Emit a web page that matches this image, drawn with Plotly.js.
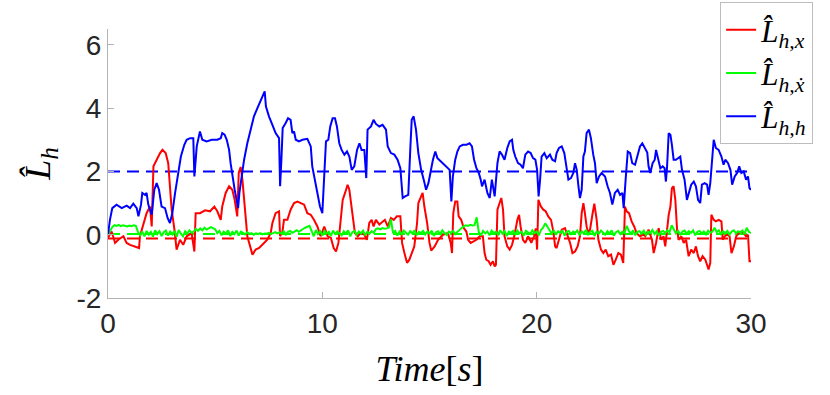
<!DOCTYPE html>
<html>
<head>
<meta charset="utf-8">
<script src="https://cdn.plot.ly/plotly-3.0.1.min.js"></script>
<style>body{margin:0;background:#fff}#chart{width:830px;height:395px}</style>
</head>
<body>
<div id="chart"></div>
<script>
// time stamps and values
const tRed = [0, 0.17, 0.33, 0.48, 0.72, 0.87, 1.03, 1.26, 1.45, 1.49, 1.65, 1.8, 1.96, 2.04, 2.12, 2.27, 2.43, 2.54, 2.69, 2.81, 2.89, 2.97, 3.1, 3.2, 3.36, 3.51, 3.67, 3.9, 4.03, 4.09, 4.29, 4.53, 4.76, 4.96,
  5.1, 5.26, 5.33, 5.49, 5.65, 5.8, 5.91, 6.03, 6.1, 6.19, 6.27, 6.35, 6.42, 6.5, 6.63, 6.74, 6.89, 7.05, 7.28, 7.43, 7.59, 7.67, 7.82, 7.98, 8.03, 8.14, 8.21, 8.37, 8.52, 8.68, 8.84, 8.99, 9.15, 9.3, 9.46, 9.61, 9.77, 9.92,
  10.09, 10.25, 10.4, 10.53, 10.64, 10.75, 10.84, 10.95, 11.06, 11.18, 11.26, 11.37, 11.46, 11.52, 11.65, 11.8, 11.96, 12.08, 12.19, 12.3, 12.39, 12.5, 12.66, 12.81, 12.92, 13.05, 13.2, 13.33, 13.48, 13.64, 13.72, 13.83, 13.95, 14.06, 14.17, 14.29, 14.42, 14.48, 14.61, 14.68, 14.76, 14.89,
  15.0, 15.08, 15.24, 15.4, 15.63, 15.86, 15.99, 16.05, 16.11, 16.2, 16.3, 16.36, 16.48, 16.6, 16.72, 16.8, 16.92, 17.03, 17.19, 17.34, 17.49, 17.57, 17.65, 17.76, 17.85, 17.96, 18.04, 18.1, 18.17, 18.27, 18.35, 18.43, 18.5, 18.63, 18.74, 18.85, 18.97, 19.1, 19.18, 19.25, 19.36, 19.47, 19.6, 19.75, 19.88, 19.96,
  20.02, 20.08, 20.2, 20.31, 20.42, 20.54, 20.67, 20.78, 20.86, 20.93, 21.04, 21.17, 21.32, 21.45, 21.56, 21.67, 21.79, 21.91, 22.02, 22.1, 22.18, 22.25, 22.33, 22.41, 22.49, 22.6, 22.69, 22.8, 22.88, 23.0, 23.11, 23.22, 23.34, 23.47, 23.58, 23.69, 23.81, 23.93, 24.04, 24.12, 24.2, 24.31, 24.43, 24.55, 24.66, 24.82,
  24.98, 25.07, 25.22, 25.38, 25.46, 25.57, 25.69, 25.81, 25.92, 26.0, 26.08, 26.16, 26.24, 26.31, 26.39, 26.47, 26.55, 26.62, 26.75, 26.86, 26.97, 27.09, 27.21, 27.33, 27.43, 27.53, 27.63, 27.74, 27.87, 28.02, 28.1, 28.15, 28.26, 28.36, 28.49, 28.62, 28.68, 28.78, 28.89, 29.0, 29.09, 29.2, 29.31, 29.43, 29.55, 29.66, 29.77, 29.86, 29.93, 30.0];
const red = [-0.1, 0.1, -0.26, -0.16, -0.05, -0.26, -0.32, -0.37, -0.42, -0.05, 0.32, 0.68, 0.89, 0.26, 2.16, 2.37, 2.58, 2.68, 2.58, 2.26, 1.63, 0.79, 0.16, -0.47, -0.16, -0.32, -0.05, 0.05, -0.53, 0.68, 0.68, 0.77, 0.74, 0.89,
  0.74, 0.47, 0.89, 1.32, 1.53, 1.42, 1.1, 0.58, 1.95, 2.14, 1.74, 1.0, 0.58, -0.05, -0.37, -0.63, -0.47, -0.42, -0.26, -0.16, 0.05, 0.37, 0.68, 0.74, -0.05, 0.1, 0.47, 0.47, 0.79, 1.0, 1.05, 1.0, 0.95, 0.68, 0.63, 0.47, 0.26, -0.05,
  0.26, -0.05, -0.1, -0.42, -0.53, -0.26, 0.37, 1.1, 1.32, 1.58, 1.42, 0.89, 0.47, 0.05, -0.05, 0.05, 0, -0.16, 0.37, 0.47, 0.26, 0.47, 0.32, 0.42, 0.47, 0.26, 0.53, 0.47, 0.58, 0.58, -0.26, -0.58, -0.89, -0.79, -0.58, -0.37, 0.37, 1.0, 1.21, 1.32, 0.89, 0.37,
  -0.26, -0.5, -0.37, -0.16, 0, 0.05, -0.26, -0.58, 0.68, 1.05, 1.05, 0.58, 0.47, 0.21, 0.1, -0.16, -0.26, -0.21, -0.16, -0.05, -0.05, -0.58, -0.79, -0.84, -0.95, -0.84, -1.0, -0.95, 0.79, 1.0, 1.16, 0.79, -0.05, -0.37, -0.47, -0.32, 0, 0.47, 0.63, 0.26, -0.16, -0.26, -0.05, -0.26, -0.05, 0.2,
  -0.47, 1.1, 0.89, 0.79, 0.74, 0.58, 0.47, 0.1, -0.37, -0.42, -0.16, 0.16, 0.21, -0.05, -0.26, -0.58, -0.53, -0.37, -0.05, 0.68, 1.0, 0.68, 0.26, 0.05, 0.16, 0.63, 0.98, 0.47, -0.16, -0.47, -0.58, -0.47, -0.68, -0.63, -0.95, -0.79, -0.58, -0.63, -0.89, 0.89, 0.74, 0.68, 0.42, 0.26, 0.05, -0.05,
  0, -0.05, 0.16, -0.16, -0.58, -0.26, 0.21, -0.16, -0.05, -0.37, 0.16, 0.63, 0.89, 1.47, 1.53, 1.1, 0.16, -0.16, -0.05, -0.26, -0.16, -0.68, -0.47, -0.58, -0.37, -0.68, -0.84, -0.68, -0.79, -1.1, -0.89, 0.63, 0.47, 0.42, 0.47, 0.42, -0.16, -0.05, 0, -0.05, -0.58, -0.37, -0.05, 0.05, 0.1, 0.05, -0.05, 0, -0.84, -0.84];

const tBlue = [0, 0.09, 0.2, 0.4, 0.64, 0.87, 1.03, 1.18, 1.34, 1.42, 1.54, 1.6, 1.73, 1.8, 1.88, 2.04, 2.16, 2.27, 2.38, 2.5, 2.66, 2.78, 2.89, 3.0, 3.13, 3.25, 3.4, 3.56, 3.67, 3.83, 3.98, 4.03, 4.14, 4.29, 4.4, 4.6, 4.84,
  5.1, 5.26, 5.33, 5.44, 5.54, 5.65, 5.72, 5.8, 5.91, 6.0, 6.07, 6.13, 6.22, 6.35, 6.5, 6.66, 6.81, 6.97, 7.12, 7.25, 7.31, 7.37, 7.51, 7.67, 7.82, 7.98, 8.03, 8.09, 8.15, 8.29, 8.4, 8.52, 8.6, 8.68, 8.76, 8.91, 9.07, 9.3, 9.46, 9.53, 9.64, 9.77, 9.89, 10.0,
  10.09, 10.17, 10.28, 10.37, 10.48, 10.59, 10.68, 10.79, 10.9, 11.03, 11.15, 11.26, 11.37, 11.49, 11.62, 11.73, 11.83, 11.96, 12.05, 12.11, 12.27, 12.39, 12.5, 12.66, 12.81, 12.97, 13.05, 13.2, 13.36, 13.51, 13.64, 13.75, 13.86, 14.01, 14.11, 14.17, 14.26, 14.37, 14.48, 14.61, 14.73, 14.84, 14.95,
  15.07, 15.16, 15.27, 15.37, 15.52, 15.71, 15.86, 15.94, 16.02, 16.09, 16.2, 16.3, 16.41, 16.56, 16.72, 16.87, 16.98, 17.08, 17.19, 17.3, 17.39, 17.45, 17.57, 17.7, 17.81, 17.91, 18.04, 18.17, 18.27, 18.38, 18.5, 18.63, 18.74, 18.85, 18.91, 19.0, 19.13, 19.25, 19.36, 19.47, 19.6, 19.72, 19.83, 19.94,
  20.02, 20.09, 20.16, 20.23, 20.36, 20.47, 20.62, 20.73, 20.86, 20.93, 21.04, 21.17, 21.29, 21.4, 21.48, 21.6, 21.71, 21.79, 21.87, 21.95, 22.02, 22.1, 22.18, 22.25, 22.33, 22.44, 22.53, 22.64, 22.72, 22.8, 22.91, 23.03, 23.19, 23.31, 23.42, 23.53, 23.65, 23.78, 23.89, 24.0, 24.06, 24.15, 24.25, 24.36, 24.46, 24.59, 24.71, 24.82, 24.93,
  25.06, 25.16, 25.22, 25.3, 25.41, 25.51, 25.57, 25.66, 25.77, 25.88, 25.97, 26.03, 26.08, 26.16, 26.24, 26.31, 26.39, 26.5, 26.62, 26.7, 26.78, 26.9, 27.01, 27.09, 27.21, 27.33, 27.43, 27.53, 27.63, 27.71, 27.84, 27.95, 28.02, 28.1, 28.18, 28.26, 28.36, 28.49, 28.62, 28.72, 28.8, 28.93, 29.04, 29.12, 29.24, 29.35, 29.45, 29.55, 29.66, 29.77, 29.86, 29.93, 30.0];
const blue = [0, 0.47, 0.84, 0.95, 0.84, 0.92, 0.84, 0.98, 0.84, 0.58, 0.95, 1.32, 1.26, 1.32, 0.95, 0.63, 1.42, 1.63, 1.42, 0.89, 0.84, 0.53, 0.37, 0.68, 1.32, 1.84, 2.47, 2.84, 3.0, 3.05, 3.05, 1.84, 2.79, 3.26, 3.0, 2.95, 3.0,
  3.0, 3.05, 3.21, 3.16, 3.0, 2.68, 2.26, 1.84, 1.42, 1.1, 0.84, 1.32, 1.74, 2.37, 2.89, 3.32, 3.74, 4.0, 4.26, 4.47, 4.53, 4.05, 3.74, 3.47, 3.21, 3.05, 1.53, 2.37, 3.37, 3.53, 3.68, 3.63, 3.21, 3.26, 3.0, 2.95, 3.0, 3.03, 2.79, 2.16, 1.74, 1.32, 0.89, 0.68,
  1.74, 2.95, 3.0, 3.42, 3.68, 3.68, 3.42, 2.89, 2.68, 2.53, 2.63, 2.47, 2.05, 2.16, 2.68, 2.89, 2.68, 2.68, 1.79, 3.32, 3.42, 3.63, 3.5, 3.42, 3.47, 3.32, 2.79, 2.58, 2.53, 2.37, 2.1, 1.16, 1.21, 1.26, 2.79, 3.63, 3.74, 3.32, 2.58, 2.05, 1.74, 1.42, 1.63,
  2.1, 2.37, 2.63, 2.42, 2.32, 2.21, 2.1, 2.05, 1.05, 1.84, 2.37, 2.63, 2.79, 2.84, 2.84, 2.89, 2.79, 2.37, 2.1, 1.95, 1.74, 1.53, 1.74, 1.32, 1.16, 1.74, 1.21, 2.26, 2.63, 2.53, 2.37, 2.74, 2.95, 3.0, 2.68, 2.47, 2.26, 2.21, 2.1, 2.53, 2.63, 2.58, 2.42, 2.37,
  2.05, 1.21, 1.74, 2.47, 2.58, 2.42, 2.53, 2.37, 2.32, 2.58, 2.74, 2.79, 2.58, 2.16, 1.74, 1.79, 1.95, 2.26, 2.05, 1.53, 1.16, 1.42, 2.47, 2.63, 3.21, 3.32, 3.05, 2.53, 2.26, 1.63, 1.84, 1.95, 1.84, 1.53, 1.32, 0.95, 1.32, 1.42, 1.26, 1.32, 0.84, 1.74, 2.63, 2.58, 2.26, 2.21, 2.53, 2.79, 2.89,
  2.7, 2.6, 2.16, 1.95, 2.26, 2.37, 2.68, 2.37, 2.1, 2.16, 2.1, 1.68, 2.1, 3.21, 3.16, 2.84, 2.37, 2.37, 2.42, 2.47, 2.05, 1.74, 1.1, 1.32, 1.58, 1.68, 1.53, 1.1, 1.0, 1.58, 1.63, 1.58, 1.26, 1.63, 2.37, 3.0, 2.74, 2.68, 2.47, 2.21, 2.37, 2.26, 2.05, 1.58, 1.84, 1.95, 2.16, 1.95, 2.0, 1.74, 1.84, 1.47, 1.42];

// green is sampled every 0.1 s (one row per second)
const greenStep = 0.1;
const green = [
  0.00, 0.12, 0.24, 0.30, 0.28, 0.31, 0.27, 0.30, 0.29, 0.26,
  0.29, 0.27, 0.30, 0.28, 0.08, -0.02, 0.10, -0.05, 0.12, 0.00,
  0.09, -0.06, 0.14, 0.02, 0.11, -0.04, 0.08, 0.13, -0.03, 0.10,
  0.01, 0.12, -0.06, 0.15, 0.03, -0.05, 0.11, 0.04, 0.14, 0.06,
  0.10, 0.18, 0.12, 0.20, 0.14, 0.22, 0.16, 0.19, 0.24, 0.21,
  0.17, 0.05, 0.12, -0.02, 0.10, 0.03, 0.14, -0.04, 0.09, 0.02,
  0.13, -0.03, 0.10, 0.06, 0.01, 0.08, 0.02, 0.05, 0.00, 0.04,
  0.02, 0.05, 0.01, 0.04, 0.03, 0.06, 0.02, 0.05, 0.08, 0.04,
  0.07, 0.03, 0.11, 0.00, 0.09, 0.12, 0.06, 0.10, 0.14, 0.09,
  0.15, 0.18, 0.22, 0.24, 0.28, 0.12, -0.05, 0.15, 0.02, 0.11,
  -0.03, 0.12, 0.04, 0.09, -0.04, 0.13, 0.02, 0.10, 0.05, -0.02,
  0.11, 0.03, 0.14, -0.05, 0.08, 0.12, 0.00, 0.10, 0.04, 0.13,
  -0.02, 0.09, 0.03, 0.11, 0.06, 0.18, 0.20, 0.17, 0.21, 0.19,
  0.20, 0.22, 0.48, 0.05, 0.12, -0.03, 0.10, 0.02, 0.13, 0.06,
  0.00, 0.11, 0.04, 0.14, -0.02, 0.09, 0.05, 0.12, 0.01, 0.10,
  0.03, 0.13, -0.04, 0.08, 0.11, 0.02, 0.14, 0.05, -0.01, 0.10,
  0.06, 0.12, 0.02, 0.09, 0.15, 0.22, 0.27, 0.30, 0.28, 0.31,
  0.29, 0.30, 0.55, 0.08, -0.03, 0.12, 0.04, 0.10, -0.02, 0.13,
  0.05, 0.09, 0.00, 0.14, 0.03, 0.11, -0.04, 0.10, 0.06, 0.12,
  0.01, 0.13, 0.04, 0.09, -0.03, 0.12, 0.07, 0.02, 0.14, 0.05,
  0.10, -0.02, 0.15, 0.22, 0.36, 0.25, 0.12, 0.04, 0.13, 0.00,
  0.11, 0.05, 0.14, -0.03, 0.09, 0.12, 0.02, 0.10, 0.06, 0.13,
  -0.02, 0.11, 0.04, 0.15, 0.01, 0.09, 0.12, -0.04, 0.10, 0.03,
  0.13, 0.06, 0.00, 0.11, 0.04, 0.14, -0.03, 0.08, 0.12, 0.02,
  0.10, 0.05, 0.28, 0.12, 0.03, 0.14, -0.02, 0.09, 0.11, 0.04,
  0.13, 0.00, 0.10, 0.06, 0.15, 0.02, 0.11, -0.03, 0.09, 0.12,
  0.05, 0.14, 0.08, 0.30, 0.16, 0.04, 0.12, 0.00, 0.10, 0.13,
  0.03, 0.11, 0.06, 0.14, -0.02, 0.09, 0.12, 0.04, 0.10, 0.01,
  0.13, 0.06, 0.10, 0.22, 0.08, 0.14, 0.02, 0.11, 0.05, 0.12,
  0.00, 0.10, 0.14, 0.04, 0.11, 0.07, 0.13, 0.02, 0.22, 0.09,
  0.05];
const tGreen = green.map((v, i) => +(i * greenStep).toFixed(1));

// reference (dashed) levels
const refSpan = [0, 30];
const refRed = -0.12;
const refGreen = 0.02;
const refBlue = 2;

const names = ['<i>L̂</i><sub><i>h,x</i></sub>', '<i>L̂</i><sub><i>h,ẋ</i></sub>', '<i>L̂</i><sub><i>h,h</i></sub>'];
const colors = ['#ff0000', '#00ff00', '#0000ff'];

function refTrace(level, color) {
  return {
    x: refSpan, y: [level, level], type: 'scatter', mode: 'lines',
    line: {color: color, width: 2, dash: '12px,7px'},
    showlegend: false, hoverinfo: 'skip'
  };
}

const traces = [
  refTrace(refRed, colors[0]),
  refTrace(refGreen, colors[1]),
  refTrace(refBlue, colors[2]),
  {x: tRed, y: red, type: 'scatter', mode: 'lines', name: names[0], line: {color: colors[0], width: 2}},
  {x: tGreen, y: green, type: 'scatter', mode: 'lines', name: names[1], line: {color: colors[1], width: 2}},
  {x: tBlue, y: blue, type: 'scatter', mode: 'lines', name: names[2], line: {color: colors[2], width: 2}}
];

const axisGray = '#b3b3b3';
const layout = {
  width: 830, height: 395,
  margin: {l: 108, r: 79, t: 29, b: 97, autoexpand: false},
  paper_bgcolor: '#fff', plot_bgcolor: '#fff',
  showlegend: true,
  legend: {
    x: 0.952, y: 1.1, xanchor: 'left', yanchor: 'top',
    bordercolor: '#bdbdbd', borderwidth: 1, bgcolor: '#fff',
    font: {family: 'Liberation Serif', size: 31, color: '#000'},
    itemwidth: 30, tracegroupgap: 0
  },
  xaxis: {
    range: [0, 30], tickvals: [0, 10, 20, 30], ticktext: ['0', '10', '20', '30'],
    ticks: 'inside', ticklen: 6, tickcolor: axisGray,
    showline: true, linecolor: axisGray, linewidth: 1,
    showgrid: false, zeroline: false,
    tickfont: {family: 'Liberation Sans', size: 28, color: '#262626'},
    title: {text: '<i>Time</i>[<i>s</i>]', font: {family: 'Liberation Serif', size: 36, color: '#000'}, standoff: 18}
  },
  yaxis: {
    range: [-2, 6.5], tickvals: [-2, 0, 2, 4, 6], ticktext: ['-2', '0', '2', '4', '6'],
    ticks: 'inside', ticklen: 6, tickcolor: axisGray,
    showline: true, linecolor: axisGray, linewidth: 1,
    showgrid: false, zeroline: false,
    tickfont: {family: 'Liberation Sans', size: 28, color: '#262626'},
    title: {text: '<i>L̂</i><sub><i>h</i></sub>', font: {family: 'Liberation Serif', size: 36, color: '#000'}, standoff: 14}
  }
};

Plotly.newPlot('chart', traces, layout, {displayModeBar: false, staticPlot: true});
</script>
</body>
</html>
